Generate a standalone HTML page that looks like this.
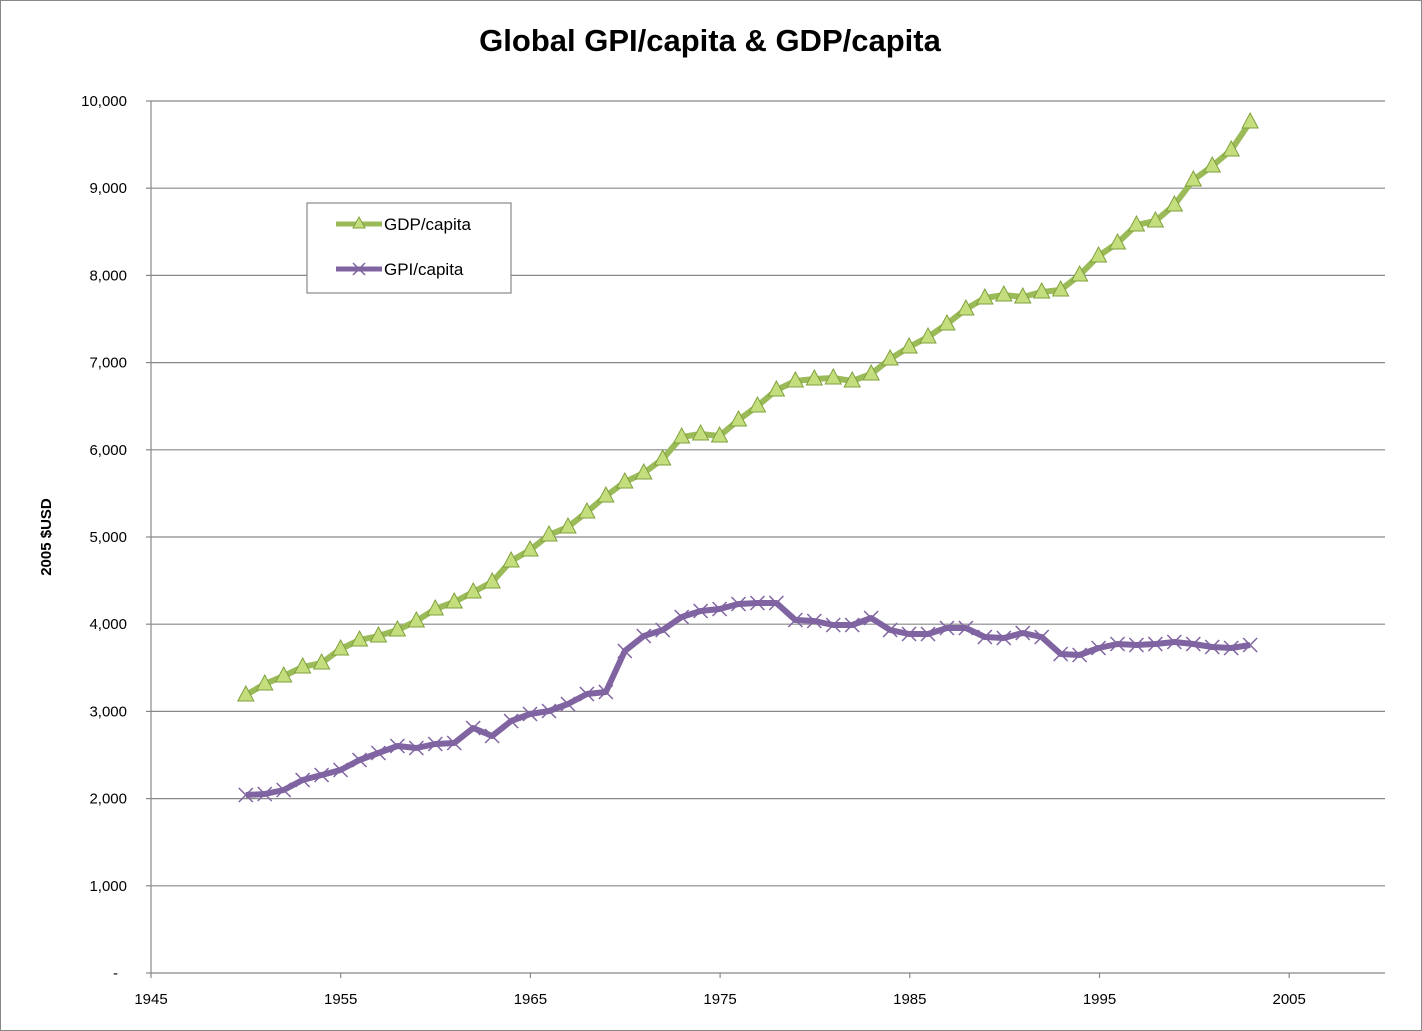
<!DOCTYPE html>
<html><head><meta charset="utf-8"><style>
html,body{margin:0;padding:0;background:#fff;}
svg{display:block;font-family:"Liberation Sans",sans-serif;}
</style></head><body>
<svg id="c" width="1422" height="1031" xmlns="http://www.w3.org/2000/svg">
<rect x="0.5" y="0.5" width="1421" height="1030" fill="#fff" stroke="#888"/>
<text x="710" y="51" text-anchor="middle" font-size="31" font-weight="bold" fill="#000">Global GPI/capita &amp; GDP/capita</text>
<g id="grid" stroke="#888" stroke-width="1.2"></g>
<line x1="151" y1="101" x2="151" y2="973" stroke="#888" stroke-width="1.2"/>
<line x1="151" y1="973" x2="1385" y2="973" stroke="#888" stroke-width="1.2"/>
<g id="ylab" font-size="15" text-anchor="end" fill="#000"></g>
<g id="xlab" font-size="15" text-anchor="middle" fill="#000"></g>
<text transform="translate(51,537) rotate(-90)" text-anchor="middle" font-size="15" font-weight="bold">2005 $USD</text>
<g id="series"></g>
<rect x="307" y="203" width="204" height="90" fill="#fff" stroke="#888" stroke-width="1.2"/>
<line x1="336" y1="224" x2="382" y2="224" stroke="#9bbb59" stroke-width="5"/>
<polygon points="359,217 365,228 353,228" fill="#c4de7e" stroke="#7fa03c" stroke-width="1"/>
<text x="384" y="230" font-size="17">GDP/capita</text>
<line x1="336" y1="269" x2="382" y2="269" stroke="#8064a2" stroke-width="5"/>
<path d="M353,263 L365,275 M365,263 L353,275" stroke="#8064a2" stroke-width="1.5"/>
<text x="384" y="275" font-size="17">GPI/capita</text>
</svg>
<script>
const ns="http://www.w3.org/2000/svg";
function el(p,t,a,txt){const e=document.createElementNS(ns,t);for(const k in a)e.setAttribute(k,a[k]);if(txt!=null)e.textContent=txt;document.getElementById(p).appendChild(e);return e;}
const labs=["-","1,000","2,000","3,000","4,000","5,000","6,000","7,000","8,000","9,000","10,000"];
for(let i=0;i<=10;i++){const y=973-i*87.2;
 if(i>0)el("grid","line",{x1:151,y1:y,x2:1385,y2:y});
 el("grid","line",{x1:146,y1:y,x2:151,y2:y});
 el("ylab","text",{x:i==0?118:127,y:y+5},labs[i]);}
for(let i=0;i<=6;i++){const x=151+i*189.7;el("grid","line",{x1:x,y1:973,x2:x,y2:978});el("xlab","text",{x:x,y:1004},String(1945+i*10));}
const gdp=[695,684,676,667,663,649,640,636,630,621,609,602,592,582,561,550,535,527,512,496,482,473,459,437,434,436,420,406,390,381,379,378,381,374,359,347,337,324,309,298,295,297,292,290,275,256,243,225,221,205,180,166,150,122];
const gpi=[795,794,790,780,775,770,760,753,746,748,744,743,728,736,721,714,711,704,694,692,651,636,630,617,611,609,604,603,603,620,621,625,625,618,630,634,634,628,628,637,638,633,637,654,655,648,644,645,644,642,644,647,648,645];
const X=i=>245.8+18.95*i;
el("series","polyline",{points:gpi.map((y,i)=>X(i)+","+y).join(" "),fill:"none",stroke:"#8064a2","stroke-width":6,"stroke-linejoin":"round"});
gpi.forEach((y,i)=>{const x=X(i);el("series","path",{d:`M${x-7},${y-7}L${x+7},${y+7}M${x+7},${y-7}L${x-7},${y+7}`,stroke:"#8064a2","stroke-width":1.5});});
el("series","polyline",{points:gdp.map((y,i)=>X(i)+","+y).join(" "),fill:"none",stroke:"#9bbb59","stroke-width":6,"stroke-linejoin":"round"});
gdp.forEach((y,i)=>{const x=X(i);el("series","polygon",{points:`${x},${y-9} ${x+8},${y+6} ${x-8},${y+6}`,fill:"#c4de7e",stroke:"#7fa03c","stroke-width":1});});
</script>
</body></html>
